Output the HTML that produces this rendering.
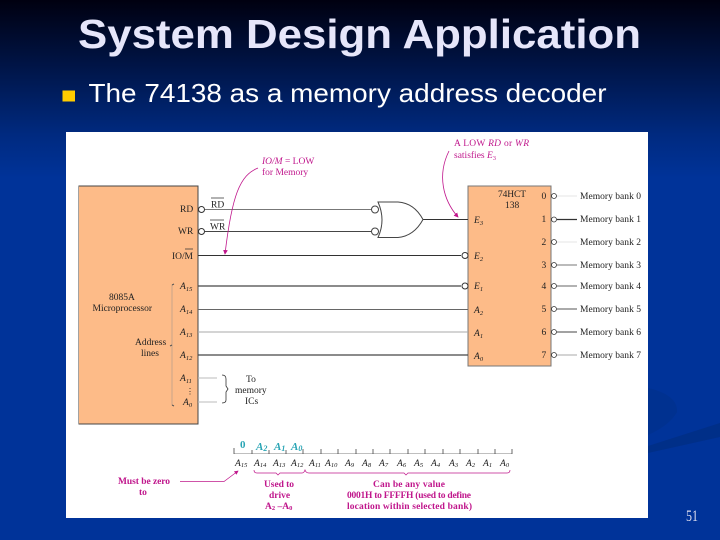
<!DOCTYPE html>
<html><head><meta charset="utf-8"><style>
html,body{margin:0;padding:0;background:#003399}
svg{display:block}
.s{font-family:"Liberation Serif",serif;font-size:9.500px;fill:#222}
.i{font-style:italic}
.m{fill:#c0188c;font-family:"Liberation Serif",serif;font-size:9.500px}
.b{font-weight:bold}
.c{fill:#2aa5b5;font-family:"Liberation Serif",serif;font-size:11px;font-weight:bold;font-style:italic}
</style></head><body>
<svg width="720" height="540" viewBox="0 0 720 540" xmlns="http://www.w3.org/2000/svg">
<defs>
<linearGradient id="g" x1="0" y1="0" x2="0" y2="1"><stop offset="0" stop-color="#000010"/><stop offset="0.25" stop-color="#002a80"/><stop offset="0.33" stop-color="#003399"/><stop offset="1" stop-color="#003399"/></linearGradient>
<marker id="am" markerWidth="6" markerHeight="6" refX="5" refY="3" orient="auto"><path d="M0 0L6 3L0 6z" fill="#c0188c"/></marker>
<filter id="bl" x="0" y="0" width="100%" height="100%"><feGaussianBlur stdDeviation="0.350"/></filter>
</defs>
<rect width="720" height="540" fill="url(#g)"/>
<path d="M648 388Q678 395 677 412Q670 425 648 435Z" fill="#003190"/>
<path d="M648 446L720 423V437L648 453Z" fill="#002f88"/>
<text x="78" y="48" font-family="Liberation Sans,sans-serif" font-size="41" font-weight="bold" fill="#e6e6fa" textLength="563" lengthAdjust="spacingAndGlyphs">System Design Application</text>
<rect x="62.500" y="90.500" width="12.500" height="11" fill="#ffcc00"/>
<text x="88.500" y="102" font-family="Liberation Sans,sans-serif" font-size="26" fill="#fff" textLength="518" lengthAdjust="spacingAndGlyphs">The 74138 as a memory address decoder</text>
<rect x="66" y="132" width="582" height="386" fill="#fff"/>
<text x="686" y="521" font-family="Liberation Serif,serif" font-size="16" fill="#dde" textLength="12" lengthAdjust="spacingAndGlyphs">51</text>

<g filter="url(#bl)">
<rect x="78.500" y="186" width="119.500" height="238" fill="#fdbb88" stroke="#444" stroke-width="1"/>
<rect x="468" y="186" width="83" height="180" fill="#fdbb88" stroke="#777" stroke-width="1"/>

<!-- Input lines -->
<g stroke-width="1" fill="none">
<path d="M205 209.500H371" stroke="#777"/>
<path d="M205 231.500H371" stroke="#444"/>
<path d="M198 255.500H461" stroke="#333"/>
<path d="M198 286H461" stroke="#444" stroke-width="1.300"/>
<path d="M198 309.500H468" stroke="#666"/>
<path d="M198 332H468" stroke="#aaa"/>
<path d="M198 355H468" stroke="#444" stroke-width="1.300"/>
<path d="M198 378H217M198 402H217" stroke="#bbb"/>
<path d="M423 219.500H468" stroke="#333"/>
<circle cx="201.500" cy="209.500" r="3" stroke="#333" fill="#fff"/>
<circle cx="201.500" cy="231.500" r="3" stroke="#333" fill="#fff"/>
<circle cx="375" cy="209.500" r="3.500" stroke="#444" fill="#fff"/>
<circle cx="375" cy="231.500" r="3.500" stroke="#444" fill="#fff"/>
<circle cx="465" cy="255.500" r="3" stroke="#333" fill="#fff"/>
<circle cx="465" cy="286" r="3" stroke="#333" fill="#fff"/>
<path d="M378 202H398Q414 203 423 219.500Q414 236 398 237.500H378Q386 220 378 202Z" stroke="#444" fill="#fff"/>
<path d="M172 285V405" stroke="#c9a58a"/>
<path d="M172 285L174 284M172 405L174 406M172 345L170 346" stroke="#555"/>
</g>

<!-- Outputs -->
<g fill="#fff" stroke="#333" stroke-width="0.800">
<circle cx="554" cy="196" r="2.500"/><circle cx="554" cy="219.500" r="2.500"/><circle cx="554" cy="242" r="2.500"/><circle cx="554" cy="265" r="2.500"/><circle cx="554" cy="286" r="2.500"/><circle cx="554" cy="309" r="2.500"/><circle cx="554" cy="332" r="2.500"/><circle cx="554" cy="355" r="2.500"/>
</g>
<g fill="none" stroke-width="1">
<path d="M557 196H577" stroke="#e4e4e4"/><path d="M557 219.500H577" stroke="#333" stroke-width="1.300"/><path d="M557 242H577" stroke="#e4e4e4"/><path d="M557 265H577" stroke="#777"/><path d="M557 286H577" stroke="#666"/><path d="M557 309H577" stroke="#555"/><path d="M557 332H577" stroke="#444"/><path d="M557 355H577" stroke="#aaa"/>
</g>
<g class="s">
<text x="580" y="199" textLength="61">Memory bank 0</text><text x="580" y="222" textLength="61">Memory bank 1</text><text x="580" y="245" textLength="61">Memory bank 2</text><text x="580" y="268" textLength="61">Memory bank 3</text><text x="580" y="289" textLength="61">Memory bank 4</text><text x="580" y="312" textLength="61">Memory bank 5</text><text x="580" y="335" textLength="61">Memory bank 6</text><text x="580" y="358" textLength="61">Memory bank 7</text>
<text x="541.500" y="199">0</text><text x="541.500" y="222">1</text><text x="541.500" y="245">2</text><text x="541.500" y="268">3</text><text x="541.500" y="289">4</text><text x="541.500" y="312">5</text><text x="541.500" y="335">6</text><text x="541.500" y="358">7</text>
<text x="498" y="197" textLength="28">74HCT</text><text x="505" y="208">138</text>
<text x="474" y="223" class="i">E<tspan dy="2" font-size="6.500">3</tspan></text>
<text x="474" y="259" class="i">E<tspan dy="2" font-size="6.500">2</tspan></text>
<text x="474" y="289" class="i">E<tspan dy="2" font-size="6.500">1</tspan></text>
<text x="474" y="313" class="i">A<tspan dy="2" font-size="6.500">2</tspan></text>
<text x="474" y="336" class="i">A<tspan dy="2" font-size="6.500">1</tspan></text>
<text x="474" y="359" class="i">A<tspan dy="2" font-size="6.500">0</tspan></text>

<text x="180" y="212">RD</text><text x="178" y="234">WR</text><text x="172" y="259" textLength="21">IO/M</text>
<text x="180" y="289" class="i">A<tspan dy="2" font-size="6.500">15</tspan></text>
<text x="180" y="312" class="i">A<tspan dy="2" font-size="6.500">14</tspan></text>
<text x="180" y="335" class="i">A<tspan dy="2" font-size="6.500">13</tspan></text>
<text x="180" y="358" class="i">A<tspan dy="2" font-size="6.500">12</tspan></text>
<text x="180" y="381" class="i">A<tspan dy="2" font-size="6.500">11</tspan></text>
<text x="183" y="405" class="i">A<tspan dy="2" font-size="6.500">0</tspan></text>
<text x="186" y="394" font-size="8">⋮</text>
<text x="211" y="207.500">RD</text><text x="210" y="229.500">WR</text>
<text x="109" y="300">8085A</text><text x="92.500" y="311" textLength="59.500">Microprocessor</text>
<text x="135" y="345">Address</text><text x="141" y="356">lines</text>
<text x="246" y="382">To</text><text x="235" y="393">memory</text><text x="245" y="404">ICs</text>
</g>
<path d="M211 198H224M210 220H224M185 249H193" stroke="#333" stroke-width="0.700" fill="none"/>
<path d="M222 375Q226 375 226 379V386L228 389L226 392V400Q226 403 222 403" stroke="#333" fill="none" stroke-width="0.800"/>

<!-- Magenta -->
<text class="m" x="262" y="164"><tspan class="i">IO/M</tspan> = LOW</text>
<text class="m" x="262" y="175">for Memory</text>
<path d="M258 168C240 175 232 195 225 254" stroke="#c0188c" fill="none" stroke-width="0.800" marker-end="url(#am)"/>
<text class="m" x="454" y="146" textLength="75">A LOW <tspan class="i">RD</tspan> or <tspan class="i">WR</tspan></text>
<text class="m" x="454" y="158">satisfies <tspan class="i">E</tspan><tspan dy="2" font-size="6.500">3</tspan></text>
<path d="M449 151C437 175 443 200 458 217" stroke="#c0188c" fill="none" stroke-width="0.800" marker-end="url(#am)"/>

<!-- Bus bit row -->
<g stroke="#444" stroke-width="0.800" fill="none">
<path d="M234 453.500H512" stroke="#aaa"/>
<path d="M234 448V454M252 450V454M269 450V454M286 450V454M303 449V454M321 449V454M338 449V454M356 449V454M373 449V454M390 449V454M408 449V454M425 449V454M443 449V454M460 449V454M478 449V454M495 449V454M512 449V454"/>
</g>
<text class="c" x="240" y="448" style="font-style:normal">0</text>
<text class="c" x="256" y="450">A<tspan dy="1" font-size="8">2</tspan></text>
<text class="c" x="274" y="450">A<tspan dy="1" font-size="8">1</tspan></text>
<text class="c" x="291" y="450">A<tspan dy="1" font-size="8">0</tspan></text>
<g class="s i">
<text x="235" y="466" class="i">A<tspan dy="1" font-size="6.500">15</tspan></text><text x="254" y="466">A<tspan dy="1" font-size="6.500">14</tspan></text><text x="273" y="466">A<tspan dy="1" font-size="6.500">13</tspan></text><text x="291" y="466">A<tspan dy="1" font-size="6.500">12</tspan></text><text x="309" y="466">A<tspan dy="1" font-size="6.500">11</tspan></text><text x="325" y="466">A<tspan dy="1" font-size="6.500">10</tspan></text><text x="345" y="466">A<tspan dy="1" font-size="6.500">9</tspan></text><text x="362" y="466">A<tspan dy="1" font-size="6.500">8</tspan></text><text x="379" y="466">A<tspan dy="1" font-size="6.500">7</tspan></text><text x="397" y="466">A<tspan dy="1" font-size="6.500">6</tspan></text><text x="414" y="466">A<tspan dy="1" font-size="6.500">5</tspan></text><text x="431" y="466">A<tspan dy="1" font-size="6.500">4</tspan></text><text x="449" y="466">A<tspan dy="1" font-size="6.500">3</tspan></text><text x="466" y="466">A<tspan dy="1" font-size="6.500">2</tspan></text><text x="483" y="466">A<tspan dy="1" font-size="6.500">1</tspan></text><text x="500" y="466">A<tspan dy="1" font-size="6.500">0</tspan></text>
</g>
<path d="M254 470Q254 473 257 473H276L278 475L280 473H302Q304 473 305 470Q306 473 309 473H404L406 475L408 473H507Q510 473 510 470" stroke="#c0188c" fill="none" stroke-width="0.700"/>
<g class="m b">
<text x="118" y="484" textLength="52">Must be zero</text><text x="139" y="495">to</text>
<text x="264" y="487" textLength="30">Used to</text><text x="269" y="498">drive</text><text x="265" y="509">A<tspan dy="1" font-size="6.500">2</tspan><tspan dy="-1"> –A</tspan><tspan dy="1" font-size="6.500">0</tspan></text>
<text x="373" y="487" textLength="72">Can be any value</text><text x="347" y="498" textLength="124">0001H to FFFFH (used to define</text><text x="347" y="509" textLength="125">location within selected bank)</text>
</g>
<path d="M180 481.500H224L238 471" stroke="#c0188c" fill="none" stroke-width="0.700" marker-end="url(#am)"/>
</g>
</svg>
</body></html>
